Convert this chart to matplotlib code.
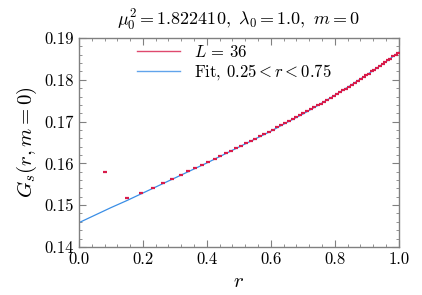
import numpy as np
import matplotlib
matplotlib.use("Agg")
import matplotlib.pyplot as plt
from matplotlib.lines import Line2D
from matplotlib.ticker import MultipleLocator

# data, L = 36
r = [0.082, 0.150, 0.195, 0.232, 0.264, 0.292, 0.318, 0.342, 0.364, 0.385,
     0.405, 0.424, 0.442, 0.459, 0.476, 0.492, 0.508, 0.523, 0.538, 0.552,
     0.566, 0.580, 0.593, 0.607, 0.619, 0.632, 0.644, 0.656, 0.668, 0.680,
     0.691, 0.702, 0.714, 0.724, 0.735, 0.746, 0.756, 0.767, 0.777, 0.787,
     0.797, 0.807, 0.816, 0.826, 0.835, 0.845, 0.854, 0.863, 0.872, 0.881,
     0.890, 0.899, 0.907, 0.916, 0.924, 0.933, 0.941, 0.950, 0.958, 0.966,
     0.974, 0.982, 0.990, 0.998]
Gs = [0.1579, 0.1518, 0.1530, 0.1542, 0.1553, 0.1562, 0.1572, 0.1581, 0.1589, 0.1597,
      0.1604, 0.1611, 0.1617, 0.1624, 0.1630, 0.1636, 0.1642, 0.1648, 0.1654, 0.1659,
      0.1665, 0.1670, 0.1675, 0.1681, 0.1686, 0.1691, 0.1696, 0.1701, 0.1706, 0.1711,
      0.1715, 0.1720, 0.1725, 0.1729, 0.1734, 0.1739, 0.1743, 0.1748, 0.1752, 0.1757,
      0.1761, 0.1766, 0.1770, 0.1775, 0.1779, 0.1784, 0.1788, 0.1793, 0.1797, 0.1802,
      0.1806, 0.1811, 0.1815, 0.1820, 0.1824, 0.1829, 0.1833, 0.1838, 0.1842, 0.1847,
      0.1851, 0.1856, 0.1860, 0.1865]

# fit curve (0.25 < r < 0.75), sampled
r_fit = [0.00, 0.05, 0.10, 0.15, 0.20, 0.25, 0.30, 0.35, 0.40, 0.45, 0.50,
         0.55, 0.60, 0.65, 0.70, 0.75, 0.80, 0.85, 0.90, 0.95, 1.00]
G_fit = [0.1458, 0.1476, 0.1494, 0.1511, 0.1529, 0.1547, 0.1565, 0.1583, 0.1601, 0.1620, 0.1639,
         0.1658, 0.1677, 0.1698, 0.1718, 0.1740, 0.1763, 0.1787, 0.1812, 0.1838, 0.1866]

red = "#d81b4a"
blue = "#3a8ee6"

plt.rcParams['font.family'] = 'serif'
plt.rcParams['font.serif'] = ['cmr10']
plt.rcParams['mathtext.fontset'] = 'cm'
plt.rcParams['axes.formatter.use_mathtext'] = True

fig = plt.figure(figsize=(4.22, 2.95), dpi=100)
ax = fig.add_axes([0.187, 0.163, 0.758, 0.708])

ax.plot(r_fit, G_fit, c=blue, lw=0.9, zorder=2)
ax.plot(r, Gs, ls="none", marker="_", ms=3, mew=1.6, c=red, zorder=3)

ax.set_xlim(0, 1)
ax.set_ylim(0.14, 0.19)
ax.xaxis.set_major_locator(MultipleLocator(0.2))
ax.xaxis.set_minor_locator(MultipleLocator(0.04))
ax.yaxis.set_major_locator(MultipleLocator(0.01))
ax.yaxis.set_minor_locator(MultipleLocator(0.002))
ax.xaxis.set_major_formatter(lambda v, p: "%.1f" % v)
ax.yaxis.set_major_formatter(lambda v, p: "%.2f" % v)

for s in ax.spines.values():
    s.set_color("#808080")
    s.set_linewidth(1.0)
ax.tick_params(which="both", direction="in", top=True, right=True,
               color="#808080", labelsize=12)
ax.tick_params(which="major", length=5)
ax.tick_params(which="minor", length=2.5)

ax.set_xlabel(r"$r$", fontsize=15)
ax.set_ylabel(r"$G_s(r,m=0)$", fontsize=15)
ax.set_title(r"$\mu_0^2=1.822410,\ \lambda_0=1.0,\ m=0$", fontsize=13, pad=9)

handles = [Line2D([], [], c=red, lw=1.0, alpha=0.8),
           Line2D([], [], c=blue, lw=1.0, alpha=0.8)]
ax.legend(handles, [r"$L\,=\,36$", r"Fit, $0.25<r<0.75$"], loc="upper left",
          bbox_to_anchor=(0.15, 1.02), frameon=False, fontsize=12,
          handlelength=2.6, labelspacing=0.15, borderaxespad=0.2)

fig.savefig("out.png", dpi=100)
